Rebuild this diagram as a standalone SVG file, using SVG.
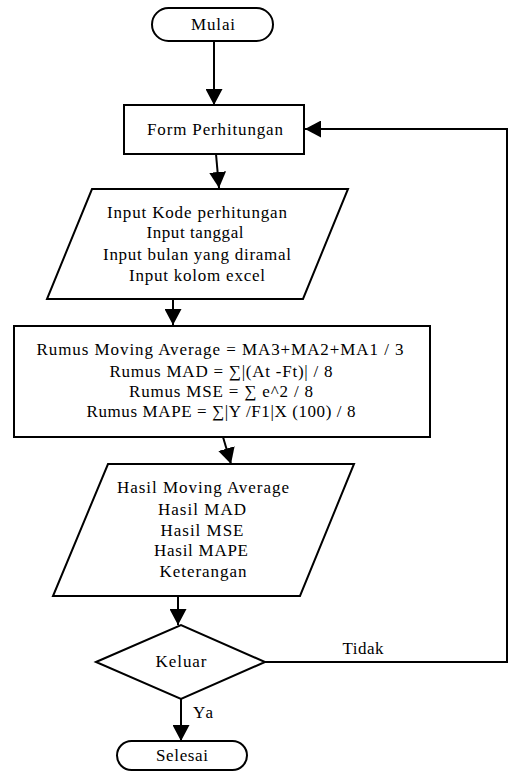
<svg xmlns="http://www.w3.org/2000/svg" width="508" height="772" viewBox="0 0 508 772">
<style>
.s{fill:#fff;stroke:#000;stroke-width:2}
.t{font-family:"Liberation Serif","Times New Roman",serif;font-size:17px;fill:#000;text-anchor:middle}
.c{fill:none;stroke:#000;stroke-width:2}
</style>
<defs>
<marker id="ah" markerUnits="userSpaceOnUse" markerWidth="16" markerHeight="17" refX="16" refY="8.5" orient="auto">
<path d="M0,0 L16,8.5 L0,17 z" fill="#000"/>
</marker>
</defs>
<rect width="508" height="772" fill="#fff"/>
<g id="connectors">
<path class="c" d="M214,41 V105" marker-end="url(#ah)"/>
<path class="c" d="M216,154 L219,188" marker-end="url(#ah)"/>
<path class="c" d="M173,299 V325" marker-end="url(#ah)"/>
<path class="c" d="M223,437 L231,464" marker-end="url(#ah)"/>
<path class="c" d="M178,597 V625" marker-end="url(#ah)"/>
<path class="c" d="M181,699 V741" marker-end="url(#ah)"/>
<path class="c" d="M265,662 H507 V129 H305" marker-end="url(#ah)"/>
<text class="t" x="363" y="654" textLength="41" lengthAdjust="spacing">Tidak</text>
<text class="t" x="203" y="718" textLength="20" lengthAdjust="spacing">Ya</text>
</g>
<g id="mulai">
<rect class="s" x="152" y="8" width="121" height="33" rx="16.5" ry="16.5"/>
<text class="t" x="213" y="30" textLength="44" lengthAdjust="spacing">Mulai</text>
</g>
<g id="form">
<rect class="s" x="124" y="105" width="180" height="49"/>
<text class="t" x="215" y="135" textLength="136" lengthAdjust="spacing">Form Perhitungan</text>
</g>
<g id="input">
<polygon class="s" points="92,189 348,189 303,299 47,299"/>
<text class="t" x="197" y="218" textLength="180" lengthAdjust="spacing">Input Kode perhitungan</text>
<text class="t" x="195" y="238" textLength="97" lengthAdjust="spacing">Input tanggal</text>
<text class="t" x="197" y="260" textLength="188" lengthAdjust="spacing">Input bulan yang diramal</text>
<text class="t" x="197" y="281" textLength="136" lengthAdjust="spacing">Input kolom excel</text>
</g>
<g id="rumus">
<rect class="s" x="14" y="326" width="416" height="111"/>
<text class="t" x="220" y="355" textLength="367" lengthAdjust="spacing">Rumus Moving Average = MA3+MA2+MA1 / 3</text>
<text class="t" x="221" y="377" textLength="223" lengthAdjust="spacing">Rumus MAD = ∑|(At -Ft)| / 8</text>
<text class="t" x="221" y="397" textLength="184" lengthAdjust="spacing">Rumus MSE = ∑ e^2 / 8</text>
<text class="t" x="221" y="417" textLength="269" lengthAdjust="spacing">Rumus MAPE = ∑|Y /F1|X (100) / 8</text>
</g>
<g id="hasil">
<polygon class="s" points="108,464 354,464 300,596 53,596"/>
<text class="t" x="203" y="493" textLength="172" lengthAdjust="spacing">Hasil Moving Average</text>
<text class="t" x="202" y="515" textLength="88" lengthAdjust="spacing">Hasil MAD</text>
<text class="t" x="202" y="536" textLength="83" lengthAdjust="spacing">Hasil MSE</text>
<text class="t" x="201" y="556" textLength="94" lengthAdjust="spacing">Hasil MAPE</text>
<text class="t" x="203" y="577" textLength="87" lengthAdjust="spacing">Keterangan</text>
</g>
<g id="keluar">
<polygon class="s" points="96,662 181,625 265,662 181,699"/>
<text class="t" x="181" y="667" textLength="51" lengthAdjust="spacing">Keluar</text>
</g>
<g id="selesai">
<rect class="s" x="117" y="741" width="130" height="29" rx="14.5" ry="14.5"/>
<text class="t" x="182" y="761" textLength="52" lengthAdjust="spacing">Selesai</text>
</g>
</svg>
